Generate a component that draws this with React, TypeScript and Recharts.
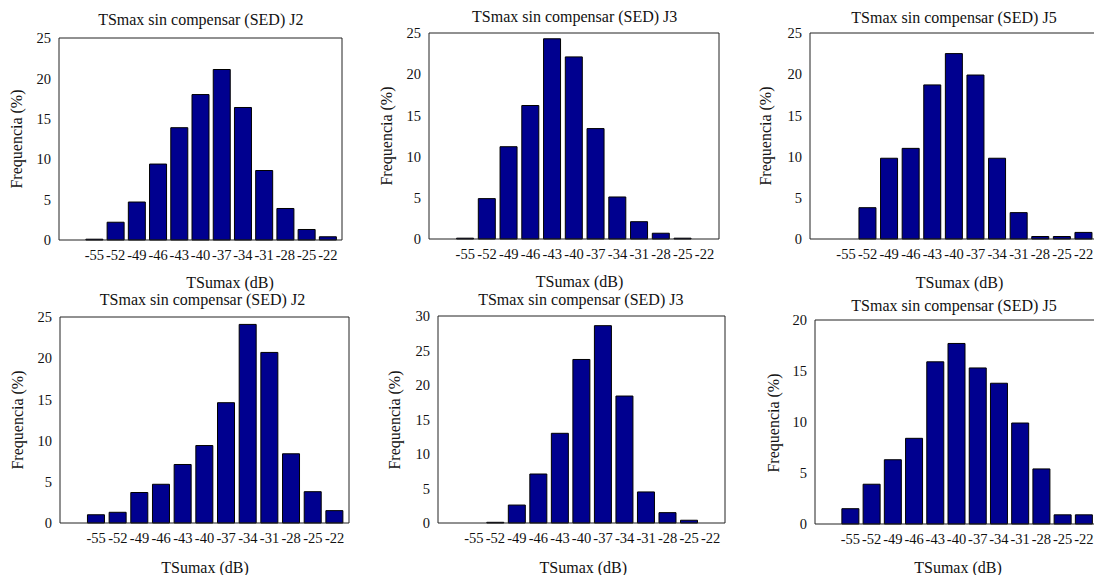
import React from "react";
import { BarChart, Bar, XAxis, YAxis } from "recharts";

// ---- data ----
const binCenters = [-55, -52, -49, -46, -43, -40, -37, -34, -31, -28, -25, -22];
const xTicks = [-55, -52, -49, -46, -43, -40, -37, -34, -31, -28, -25, -22];
const xDomain = [-60, -20];

const j2TopValues = [0.1, 2.2, 4.7, 9.4, 13.9, 18.0, 21.1, 16.4, 8.6, 3.9, 1.3, 0.4];
const j3TopValues = [0.1, 4.9, 11.2, 16.2, 24.3, 22.1, 13.4, 5.1, 2.1, 0.7, 0.1, 0];
const j5TopValues = [0, 3.8, 9.8, 11.0, 18.7, 22.5, 19.9, 9.8, 3.2, 0.3, 0.3, 0.8];
const j2BottomValues = [1.0, 1.3, 3.7, 4.7, 7.1, 9.4, 14.6, 24.1, 20.7, 8.4, 3.8, 1.5];
const j3BottomValues = [0, 0.1, 2.6, 7.1, 13.0, 23.7, 28.6, 18.4, 4.5, 1.5, 0.4, 0];
const j5BottomValues = [1.5, 3.9, 6.3, 8.4, 15.9, 17.7, 15.3, 13.8, 9.9, 5.4, 0.9, 0.9];

const yTicks25 = [0, 5, 10, 15, 20, 25];
const yTicks30 = [0, 5, 10, 15, 20, 25, 30];
const yTicks20 = [0, 5, 10, 15, 20];

const titles = [
  "TSmax sin compensar (SED) J2",
  "TSmax sin compensar (SED) J3",
  "TSmax sin compensar (SED) J5",
  "TSmax sin compensar (SED) J2",
  "TSmax sin compensar (SED) J3",
  "TSmax sin compensar (SED) J5",
];
const xLabel = "TSumax (dB)";
const yLabel = "Frequencia (%)";

// ---- layout (positions only) ----
const panels = [
  { values: j2TopValues, yTicks: yTicks25, plot: [59, 38, 342, 240], title: [200.8, 20], xl: [230, 283], yl: [17, 139] },
  { values: j3TopValues, yTicks: yTicks25, plot: [429, 33, 719, 239], title: [574.7, 16.5], xl: [579.5, 282], yl: [387, 136] },
  { values: j5TopValues, yTicks: yTicks25, plot: [810, 33, 1098, 239], title: [954, 17.5], xl: [959.5, 282.5], yl: [765.7, 136] },
  { values: j2BottomValues, yTicks: yTicks25, plot: [60, 317, 349, 523], title: [202.5, 299.5], xl: [205, 568], yl: [17.5, 420] },
  { values: j3BottomValues, yTicks: yTicks30, plot: [438, 316, 725, 523], title: [580.8, 300], xl: [583.3, 567.5], yl: [395, 420] },
  { values: j5BottomValues, yTicks: yTicks20, plot: [815, 320, 1098, 524], title: [954, 306], xl: [958, 568], yl: [774, 422.5] },
];

const FONT = '"Times New Roman", "Liberation Serif", "DejaVu Serif", serif';
const LINE = "#222";
const BAR = "#00008F";
const PAD_L = 60;
const PAD_T = 10;
const PAD_R = 6;
const PAD_B = 40;

const textStyle: React.CSSProperties = {
  position: "absolute",
  whiteSpace: "nowrap",
  fontFamily: FONT,
  fontSize: 16,
  lineHeight: 1,
  color: "#111",
};

function Panel({ p }: { p: (typeof panels)[number] }) {
  const [l, t, r, b] = p.plot;
  const w = r - l + PAD_L + PAD_R;
  const h = b - t + PAD_T + PAD_B;
  const data = binCenters.map((x, i) => ({ x, v: p.values[i] }));
  const yMax = p.yTicks[p.yTicks.length - 1];
  const tickFont = { fontFamily: FONT, fontSize: 14.5, fill: "#111" };
  return (
    <div style={{ position: "absolute", left: l - PAD_L, top: t - PAD_T, width: w, height: h, fontFamily: FONT }}>
      <BarChart width={w} height={h} data={data} margin={{ top: PAD_T, right: PAD_R, bottom: 0, left: 0 }}>
        <XAxis
          xAxisId="b"
          dataKey="x"
          type="number"
          orientation="bottom"
          domain={xDomain}
          allowDataOverflow
          ticks={xTicks}
          interval={0}
          height={PAD_B}
          tickLine={false}
          tickSize={0}
          tickMargin={10}
          axisLine={{ stroke: LINE }}
          tick={tickFont}
        />
        <XAxis
          xAxisId="bi"
          dataKey="x"
          type="number"
          orientation="bottom"
          mirror
          domain={xDomain}
          allowDataOverflow
          ticks={xTicks}
          interval={0}
          tick={false}
          tickSize={3}
          axisLine={false}
          tickLine={{ stroke: LINE }}
        />
        <XAxis
          xAxisId="t"
          dataKey="x"
          type="number"
          orientation="top"
          mirror
          domain={xDomain}
          allowDataOverflow
          ticks={xTicks}
          interval={0}
          tick={false}
          tickSize={3}
          axisLine={{ stroke: LINE }}
          tickLine={{ stroke: LINE }}
        />
        <YAxis
          yAxisId="l"
          orientation="left"
          width={PAD_L}
          domain={[0, yMax]}
          ticks={p.yTicks}
          interval={0}
          tickLine={false}
          tickSize={0}
          tickMargin={8}
          axisLine={{ stroke: LINE }}
          tick={tickFont}
        />
        <YAxis
          yAxisId="li"
          orientation="left"
          mirror
          domain={[0, yMax]}
          ticks={p.yTicks}
          interval={0}
          tick={false}
          tickSize={3}
          axisLine={false}
          tickLine={{ stroke: LINE }}
        />
        <YAxis
          yAxisId="r"
          orientation="right"
          mirror
          domain={[0, yMax]}
          ticks={p.yTicks}
          interval={0}
          tick={false}
          tickSize={3}
          axisLine={{ stroke: LINE }}
          tickLine={{ stroke: LINE }}
        />
        <Bar
          xAxisId="b"
          yAxisId="l"
          dataKey="v"
          fill={BAR}
          stroke="#000"
          strokeWidth={1}
          isAnimationActive={false}
        />
      </BarChart>
    </div>
  );
}

export default function App() {
  return (
    <div
      style={{
        position: "absolute",
        left: 0,
        top: 0,
        width: 1094,
        height: 575,
        overflow: "hidden",
        background: "#fff",
        fontFamily: FONT,
      }}
    >
      {panels.map((p, i) => (
        <Panel key={"p" + i} p={p} />
      ))}
      {panels.map((p, i) => (
        <React.Fragment key={"t" + i}>
          <div style={{ ...textStyle, left: p.title[0], top: p.title[1], transform: "translate(-50%, -50%)" }}>
            {titles[i]}
          </div>
          <div style={{ ...textStyle, left: p.xl[0], top: p.xl[1], transform: "translate(-50%, -50%)" }}>
            {xLabel}
          </div>
          <div
            style={{
              ...textStyle,
              left: p.yl[0],
              top: p.yl[1],
              transform: "translate(-50%, -50%) rotate(-90deg)",
            }}
          >
            {yLabel}
          </div>
        </React.Fragment>
      ))}
    </div>
  );
}
